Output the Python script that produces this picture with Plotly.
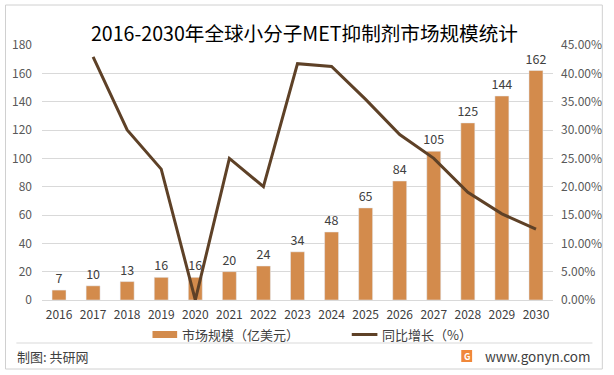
import plotly.graph_objects as go

years = [str(y) for y in range(2016, 2031)]
market = [7, 10, 13, 16, 16, 20, 24, 34, 48, 65, 84, 105, 125, 144, 162]
growth = [None, 0.429, 0.30, 0.231, 0.0, 0.25, 0.20, 0.417, 0.412, 0.354, 0.292, 0.25, 0.19, 0.152, 0.125]

title_text = "2016-2030年全球小分子MET抑制剂市场规模统计"
bar_name = "市场规模（亿美元）"
line_name = "同比增长（%）"
source_text = "制图: 共研网"
site_text = "www.gonyn.com"

BAR_C = "#D38B4C"
LINE_C = "#5E4127"
GRID_C = "#D9D9D9"
TXT_C = "#404040"
AX_C = "#595959"
FONT = "Noto Sans CJK SC, Microsoft YaHei, sans-serif"

W, H = 614, 375
L, R, T, B = 42, 560, 45, 300


def px(x):
    return (x - L) / (R - L)


def py(y):
    return (B - y) / (B - T)


fig = go.Figure()
fig.add_trace(go.Bar(
    x=years, y=market, name=bar_name, marker_color=BAR_C,
    text=[str(v) for v in market], textposition="outside", constraintext="none",
    textfont=dict(size=12.5, color=TXT_C, family=FONT), cliponaxis=False,
    showlegend=False, hoverinfo="skip",
))
fig.add_trace(go.Scatter(
    x=years, y=growth, name=line_name, mode="lines", yaxis="y2",
    line=dict(color=LINE_C, width=3), connectgaps=False, showlegend=False,
    hoverinfo="skip",
))

shapes = []
annotations = []
# outer border
shapes.append(dict(type="rect", xref="paper", yref="paper",
                   x0=px(5), x1=px(610), y0=py(5), y1=py(369),
                   line=dict(color="#D0D0D0", width=1), layer="below"))
# separator
shapes.append(dict(type="line", xref="paper", yref="paper",
                   x0=px(16), x1=px(600), y0=py(343), y1=py(343),
                   line=dict(color=GRID_C, width=1)))
# legend swatches
shapes.append(dict(type="rect", xref="paper", yref="paper",
                   x0=px(154), x1=px(179), y0=py(331), y1=py(338),
                   fillcolor=BAR_C, line=dict(width=0)))
shapes.append(dict(type="line", xref="paper", yref="paper",
                   x0=px(356), x1=px(382), y0=py(334.5), y1=py(334.5),
                   line=dict(color=LINE_C, width=3)))
annotations.append(dict(text=bar_name, xref="paper", yref="paper",
                        x=px(182), y=py(334.5), xanchor="left", yanchor="middle",
                        showarrow=False, font=dict(size=13, color=TXT_C, family=FONT)))
annotations.append(dict(text=line_name, xref="paper", yref="paper",
                        x=px(385), y=py(334.5), xanchor="left", yanchor="middle",
                        showarrow=False, font=dict(size=13, color=TXT_C, family=FONT)))
# footer
annotations.append(dict(text=source_text, xref="paper", yref="paper",
                        x=px(15), y=py(356), xanchor="left", yanchor="middle",
                        showarrow=False, font=dict(size=13, color=TXT_C, family=FONT)))
annotations.append(dict(text=site_text, xref="paper", yref="paper",
                        x=px(601), y=py(356), xanchor="right", yanchor="middle",
                        showarrow=False, font=dict(size=13.5, color=TXT_C, family=FONT)))
shapes.append(dict(type="rect", xref="paper", yref="paper",
                   x0=px(467), x1=px(478), y0=py(350), y1=py(362),
                   fillcolor="#F0883A", line=dict(width=0)))
annotations.append(dict(text="<b>G</b>", xref="paper", yref="paper",
                        x=px(472.5), y=py(356), xanchor="center", yanchor="middle",
                        showarrow=False, font=dict(size=9, color="white", family=FONT)))
# title
annotations.append(dict(text=title_text, xref="paper", yref="paper",
                        x=px(308), y=py(33), xanchor="center", yanchor="middle",
                        showarrow=False, font=dict(size=19.6, color="#000000", family=FONT)))

fig.update_layout(
    width=W, height=H,
    margin=dict(l=L, r=W - R, t=T, b=H - B),
    paper_bgcolor="white", plot_bgcolor="white",
    bargap=0.59,
    font=dict(family=FONT, color=AX_C),
    xaxis=dict(type="category", showgrid=False, showline=True,
               linecolor=GRID_C, ticks="", ticklabelstandoff=4,
               tickfont=dict(size=12, color=TXT_C)),
    yaxis=dict(range=[0, 180], dtick=20, showgrid=True, gridcolor=GRID_C,
               zeroline=False, showline=False, ticks="", ticklabelstandoff=9,
               tickfont=dict(size=12, color=AX_C)),
    yaxis2=dict(range=[0, 0.45], dtick=0.05, tickformat=".2%", overlaying="y",
                side="right", showgrid=False, zeroline=False, showline=False,
                ticks="", ticklabelstandoff=7, tickfont=dict(size=12, color=AX_C)),
    shapes=shapes, annotations=annotations, showlegend=False,
)

fig.write_html(
    "out.html",
    config={"displayModeBar": False},
    post_script="document.body.style.margin='0';document.body.style.overflow='hidden';",
)
